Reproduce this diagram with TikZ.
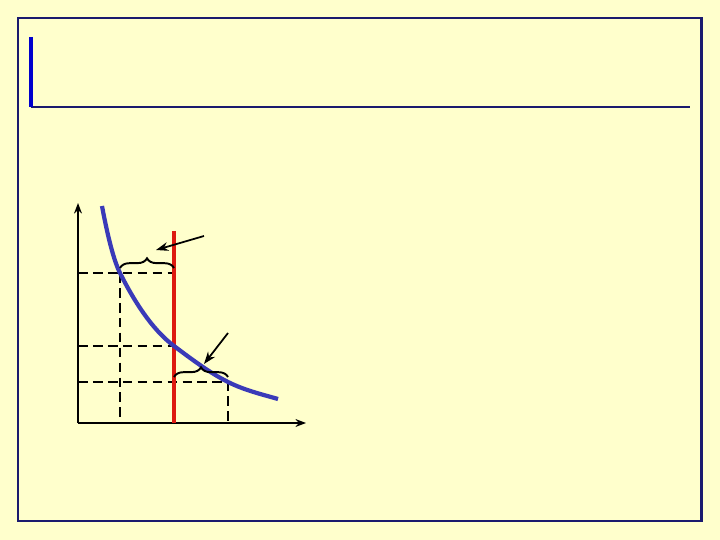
\documentclass[tikz,border=0pt]{standalone}
\usepackage{tikz}
\usetikzlibrary{decorations.pathreplacing,arrows.meta}

\definecolor{paper}{HTML}{FFFFCC}
\definecolor{frameblue}{HTML}{1A1A6E}
\definecolor{barblue}{HTML}{0000CC}
\definecolor{curveblue}{HTML}{3A3AB8}
\definecolor{linered}{HTML}{DD1A10}

\tikzset{
	dashline/.style={black, line width=0.9pt, dash pattern=on 5.5pt off 3pt},
	bracemark/.style={decorate, decoration={brace, amplitude=5.5pt}, black, line width=1.1pt},
	pointer/.style={-{Stealth[length=7pt,width=5pt]}, black, line width=1pt}
}

\begin{document}
\begin{tikzpicture}[x=0.02cm, y=-0.02cm]
	\fill[paper] (0,0) rectangle (720,540);
	\useasboundingbox (0,0) rectangle (720,540);
	% frame and title rule
	\draw[frameblue, line width=1.7pt] (18,18) rectangle (701,521);
	\draw[frameblue, line width=1.3pt] (31,107) -- (690,107);
	\draw[barblue, line width=2.4pt] (31,37) -- (31,107);

	% axes
	\coordinate (O) at (78,423);
	\coordinate (ytop) at (78,203);
	\coordinate (xend) at (306,423);
	\draw[-{Stealth[length=6pt,width=4.5pt]}, line width=1.1pt] (O) -- (ytop);
	\draw[-{Stealth[length=6pt,width=4.5pt]}, line width=1.1pt] (O) -- (xend);

	% points on the curve
	\coordinate (A) at (120,273);
	\coordinate (B) at (174,346);
	\coordinate (C) at (228,382);

	% dashed guides
	\draw[dashline] (78,273) -- (A) -- (174,273);
	\draw[dashline] (A) -- (120,423);
	\draw[dashline] (78,346) -- (B);
	\draw[dashline] (78,382) -- (C) -- (228,423);

	% red vertical line
	\draw[linered, line width=1.8pt] (174,231) -- (174,423);

	% demand curve
	\draw[curveblue, line width=2.4pt] (102,206)
		.. controls (108,238) and (114,261) .. (A)
		.. controls (138,309) and (156,332.5) .. (B)
		.. controls (192,359.5) and (210,373) .. (C)
		.. controls (244.7,390.3) and (261.3,394.2) .. (278,399);

	% braces and arrows
	\draw[bracemark] (120,268) -- (174,268);
	\draw[bracemark] (174,377) -- (228,377);
	\coordinate (p1) at (204,236);
	\coordinate (p2) at (228,333);
	\draw[pointer] (p1) -- (156,250);
	\draw[pointer] (p2) -- (204,364);
\end{tikzpicture}
\end{document}
